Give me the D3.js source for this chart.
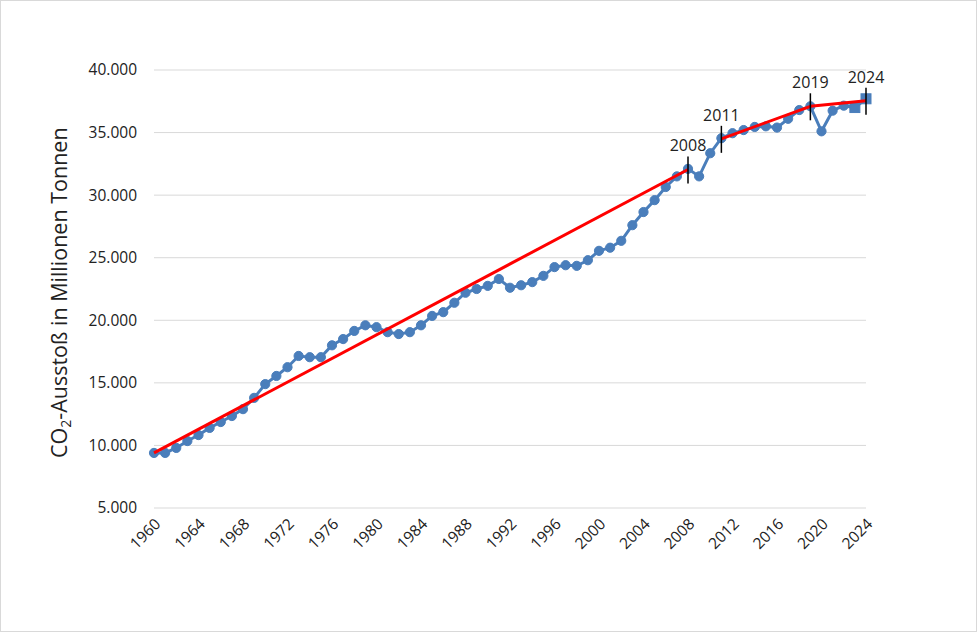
<!DOCTYPE html>
<html lang="de">
<head>
  <meta charset="utf-8">
  <title>CO2-Ausstoß</title>
  <script src="https://cdnjs.cloudflare.com/ajax/libs/d3/7.8.5/d3.min.js"></script>
  <style>
    body { margin: 0; background: #fff; }
    text { font-family: "Open Sans", "Noto Sans", sans-serif; fill: #222; }
    .grid line { stroke: #d9d9d9; stroke-width: 1; }
    .series { fill: none; stroke: #4a7ebb; stroke-width: 3; }
    .dot { fill: #4a7ebb; stroke: #4a7ebb; stroke-width: 1; }
    .trend { fill: none; stroke: #ff0000; stroke-width: 3; }
    .marker { stroke: #000; stroke-width: 1.5; }
  </style>
</head>
<body>
<svg id="svg"></svg>
<script>
  // years and emissions (Mio. t)
  var years = d3.range(1960, 2025);
  var values = [
    9400, 9400, 9800, 10350, 10830, 11400, 11870, 12350, 12900, 13800,
    14900, 15550, 16250, 17150, 17050, 17050, 18000, 18500, 19150, 19600,
    19450, 19050, 18900, 19050, 19600, 20350, 20650, 21400, 22200, 22500,
    22750, 23300, 22600, 22800, 23050, 23550, 24250, 24400, 24350, 24800,
    25550, 25800, 26350, 27600, 28650, 29600, 30650, 31500, 32100, 31500,
    33350, 34550, 34950, 35200, 35450, 35500, 35400, 36100, 36800, 37100,
    35100, 36750, 37150, 37000, 37700
  ];
  // 2023 and 2024 drawn as squares (estimates)
  var squareYears = [2023, 2024];

  // trend segments
  var trendSegments = [
    [[1960, 9400], [2008, 32050]],
    [[2011, 34500], [2019, 37100]],
    [[2019, 37100], [2024, 37550]]
  ];
  var markYears = [2008, 2011, 2019, 2024];
  var markValues = [32050, 34500, 37100, 37550];

  var yTicks = [5000, 10000, 15000, 20000, 25000, 30000, 35000, 40000];
  var xTicks = d3.range(1960, 2025, 4);

  var W = 977, H = 632;
  var margin = { left: 154, right: 111, top: 70, bottom: 124 };

  var svg = d3.select("#svg").attr("width", W).attr("height", H);

  svg.append("rect")
    .attr("x", 0.5).attr("y", 0.5)
    .attr("width", W - 1).attr("height", H - 1)
    .attr("fill", "#fff").attr("stroke", "#d9d9d9");

  var x = d3.scaleLinear().domain([1960, 2024]).range([margin.left, W - margin.right]);
  var y = d3.scaleLinear().domain([5000, 40000]).range([H - margin.bottom, margin.top]);

  var fmt = function (d) { return d3.format(",")(d).replace(/,/g, "."); };

  // horizontal gridlines
  svg.append("g").attr("class", "grid")
    .selectAll("line").data(yTicks).enter().append("line")
    .attr("x1", margin.left).attr("x2", W - margin.right)
    .attr("y1", function (d) { return y(d); })
    .attr("y2", function (d) { return y(d); });

  // y axis labels
  var yAxis = svg.append("g")
    .attr("transform", "translate(" + margin.left + ",0)")
    .call(d3.axisLeft(y).tickValues(yTicks).tickFormat(fmt).tickSize(0).tickPadding(17));
  yAxis.select(".domain").remove();
  yAxis.selectAll("text").style("font-size", "15.5px").attr("fill", "#222");

  // x axis labels, rotated
  var xAxis = svg.append("g")
    .attr("transform", "translate(0," + (H - margin.bottom) + ")")
    .call(d3.axisBottom(x).tickValues(xTicks).tickFormat(d3.format("d")).tickSize(0));
  xAxis.select(".domain").remove();
  xAxis.selectAll("text")
    .style("font-size", "15.5px").attr("fill", "#222")
    .attr("text-anchor", "end")
    .attr("dy", "0.35em")
    .attr("transform", "translate(1,11) rotate(-45)");

  // axis title
  svg.append("text")
    .attr("transform", "translate(67," + (y(22200)) + ") rotate(-90)")
    .attr("text-anchor", "middle")
    .style("font-size", "21.5px")
    .html("CO<tspan font-size='14px' dy='4'>2</tspan><tspan dy='-4'>-Ausstoß in Millionen Tonnen</tspan>");

  var data = years.map(function (yr, i) { return { year: yr, value: values[i] }; });

  // data line
  svg.append("path")
    .datum(data)
    .attr("class", "series")
    .attr("d", d3.line().x(function (d) { return x(d.year); }).y(function (d) { return y(d.value); }));

  // markers
  svg.selectAll(".dot").data(data.filter(function (d) { return squareYears.indexOf(d.year) < 0; }))
    .enter().append("circle").attr("class", "dot")
    .attr("cx", function (d) { return x(d.year); })
    .attr("cy", function (d) { return y(d.value); })
    .attr("r", 4.6);
  svg.selectAll(".sq").data(data.filter(function (d) { return squareYears.indexOf(d.year) >= 0; }))
    .enter().append("rect").attr("class", "dot")
    .attr("x", function (d) { return x(d.year) - 5; })
    .attr("y", function (d) { return y(d.value) - 5; })
    .attr("width", 10).attr("height", 10);

  // trend line
  var tline = d3.line().x(function (d) { return x(d[0]); }).y(function (d) { return y(d[1]); });
  svg.selectAll(".trend").data(trendSegments).enter().append("path")
    .attr("class", "trend").attr("d", tline);

  // year marks
  markYears.forEach(function (yr, i) {
    var cx = x(yr), cy = y(markValues[i]);
    svg.append("line").attr("class", "marker")
      .attr("x1", cx).attr("x2", cx).attr("y1", cy - 13).attr("y2", cy + 14);
    svg.append("text")
      .attr("x", cx).attr("y", cy - 18)
      .attr("text-anchor", "middle")
      .style("font-size", "16px")
      .text(yr);
  });
</script>
</body>
</html>
